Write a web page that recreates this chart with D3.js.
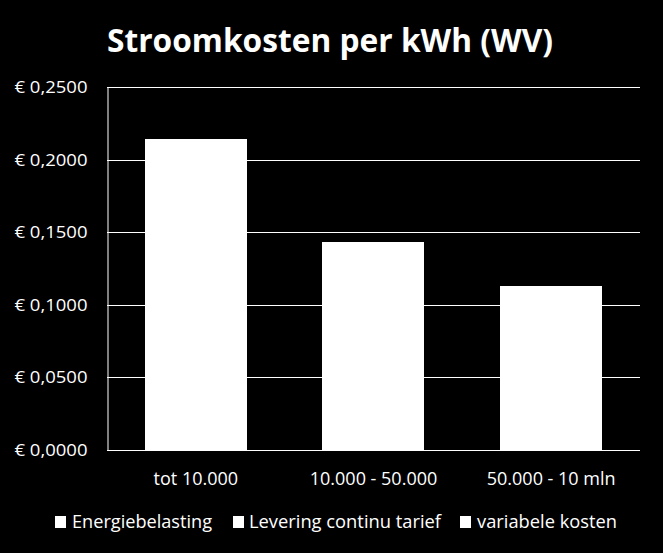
<!DOCTYPE html>
<html><head><meta charset="utf-8">
<script src="https://cdnjs.cloudflare.com/ajax/libs/d3/7.8.5/d3.min.js"></script>
<style>html,body{margin:0;padding:0;background:#000;}svg{display:block;}</style>
</head><body>
<script>
const categories = ["tot 10.000", "10.000 - 50.000", "50.000 - 10 mln"];
const seriesNames = ["Energiebelasting", "Levering continu tarief", "variabele kosten"];
const energiebelasting = [0.1140, 0.0415, 0.0113];
const leveringContinu = [0.0700, 0.0700, 0.0700];
const variabeleKosten = [0.0302, 0.0318, 0.0316];
const yTicks = [0, 0.05, 0.10, 0.15, 0.20, 0.25];
const seriesColors = ["#ffffff", "#ffffff", "#ffffff"];

const W = 663, H = 553;
const font = "'Open Sans', 'Noto Sans', sans-serif";
const svg = d3.select("body").append("svg").attr("width", W).attr("height", H)
  .style("background", "#000");
svg.append("rect").attr("width", W).attr("height", H).attr("fill", "#000");

const m = {left: 107, right: 640, top: 87, bottom: 450};
const x = d3.scaleBand().domain(categories).range([m.left, m.right]).paddingInner(0.425).paddingOuter(0.2125);
const y = d3.scaleLinear().domain([0, 0.25]).range([m.bottom, m.top]);

// title
svg.append("text").attr("x", 330).attr("y", 52).attr("text-anchor", "middle")
  .attr("fill", "#fff").attr("font-family", font).attr("font-weight", "bold")
  .attr("font-size", 33).attr("textLength", 446).attr("lengthAdjust", "spacingAndGlyphs")
  .text("Stroomkosten per kWh (WV)");

// gridlines
svg.append("g").selectAll("line").data(yTicks).join("line")
  .attr("x1", m.left).attr("x2", m.right)
  .attr("y1", d => Math.round(y(d)) + 0.5).attr("y2", d => Math.round(y(d)) + 0.5)
  .attr("stroke", "#ffffff").attr("stroke-width", 1);

// y axis
const fmt = d => "€ " + d3.format(".4f")(d).replace(".", ",");
const yAxis = d3.axisLeft(y).tickValues(yTicks).tickFormat(fmt).tickSize(0).tickPadding(20);
const gy = svg.append("g").attr("transform", `translate(${m.left + 0.5},0)`).call(yAxis);
gy.select(".domain").attr("stroke", "#fff");
gy.selectAll("text").attr("fill", "#fff").attr("font-family", font).attr("font-size", 17)
  .attr("textLength", 73).attr("lengthAdjust", "spacingAndGlyphs");

// stacked bars
const table = categories.map((c, i) => ({cat: c, s0: energiebelasting[i], s1: leveringContinu[i], s2: variabeleKosten[i]}));
const stack = d3.stack().keys(["s0", "s1", "s2"])(table);
svg.append("g").attr("shape-rendering", "crispEdges").selectAll("g").data(stack).join("g")
  .attr("fill", (d, i) => seriesColors[i])
  .selectAll("rect").data(d => d).join("rect")
  .attr("x", d => Math.round(x(d.data.cat))).attr("width", Math.round(x.bandwidth()))
  .attr("y", d => Math.round(y(d[1]))).attr("height", d => Math.round(y(d[0])) - Math.round(y(d[1])));

// x axis labels
const xAxis = d3.axisBottom(x).tickSize(0).tickPadding(22);
const gx = svg.append("g").attr("transform", `translate(0,${m.bottom})`).call(xAxis);
gx.select(".domain").remove();
gx.selectAll("text").attr("fill", "#fff").attr("font-family", font).attr("font-size", 18);

// legend
const legendItems = [
  {name: seriesNames[0], sx: 55, tx: 72, tw: 140},
  {name: seriesNames[1], sx: 233, tx: 249, tw: 192},
  {name: seriesNames[2], sx: 460, tx: 477, tw: 140}
];
const lg = svg.append("g");
legendItems.forEach((it, i) => {
  lg.append("rect").attr("x", it.sx).attr("y", 516).attr("width", 11).attr("height", 12).attr("fill", seriesColors[i]);
  lg.append("text").attr("x", it.tx).attr("y", 528).attr("fill", "#fff")
    .attr("font-family", font).attr("font-size", 18)
    .attr("textLength", it.tw).attr("lengthAdjust", "spacingAndGlyphs").text(it.name);
});
</script>
</body></html>
